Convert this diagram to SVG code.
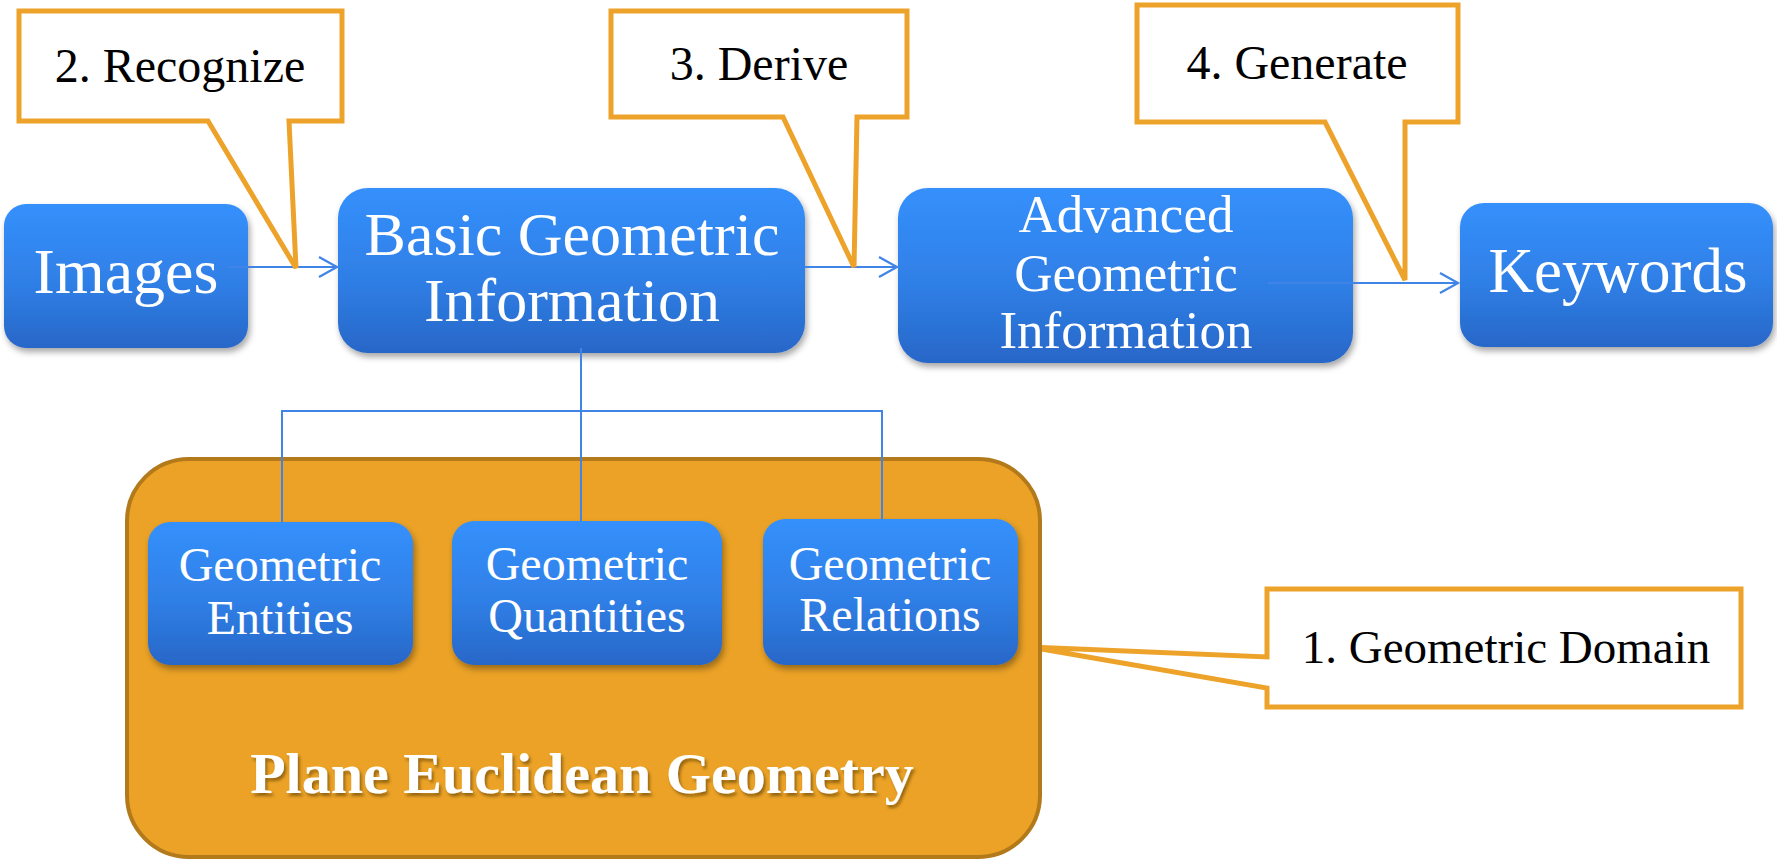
<svg xmlns="http://www.w3.org/2000/svg" width="1777" height="864" viewBox="0 0 1777 864">
<defs>
<linearGradient id="blueGrad" x1="0" y1="0" x2="0" y2="1">
<stop offset="0" stop-color="#3590FC"/>
<stop offset="0.55" stop-color="#2F7FE6"/>
<stop offset="1" stop-color="#2867C8"/>
</linearGradient>
<filter id="shadow" x="-10%" y="-10%" width="125%" height="130%">
<feDropShadow dx="2" dy="4" stdDeviation="3" flood-color="#000" flood-opacity="0.35"/>
</filter>
<filter id="textShadow" x="-5%" y="-20%" width="110%" height="150%">
<feDropShadow dx="2" dy="3" stdDeviation="1.5" flood-color="#5a3a00" flood-opacity="0.6"/>
</filter>
<marker id="arrow" markerUnits="userSpaceOnUse" markerWidth="22" markerHeight="24" refX="19" refY="11" orient="auto">
<path d="M1,1 L19,11 L1,21" fill="none" stroke="#3F84E6" stroke-width="2.2"/>
</marker>
</defs>
<style>
.node rect{fill:url(#blueGrad);filter:url(#shadow)}
.wt{fill:#fff;font-family:"Liberation Serif","Times New Roman",serif;text-anchor:middle}
.bt{fill:#000;font-family:"Liberation Serif","Times New Roman",serif;text-anchor:middle}
.callout{fill:#fff;stroke:#EDA22A;stroke-width:5;stroke-linejoin:miter}
.conn{fill:none;stroke:#3F84E6;stroke-width:2}
</style>
<rect width="1777" height="864" fill="#fff"/>

<g id="callout-domain">
<polygon class="callout" points="1267,589 1741,589 1741,707 1267,707 1267,688 1030,647 1267,657"/>
<text class="bt" x="1506" y="663" font-size="47">1. Geometric Domain</text>
</g>

<g id="plane-euclidean-geometry">
<rect x="127" y="459" width="913" height="398" rx="62" ry="62" fill="#EBA226" stroke="#B27A1B" stroke-width="4"/>
<text x="582" y="793" font-size="58" font-weight="bold" fill="#fff" font-family="'Liberation Serif','Times New Roman',serif" text-anchor="middle" filter="url(#textShadow)">Plane Euclidean Geometry</text>
</g>

<g id="images" class="node">
<rect x="4" y="204" width="244" height="144" rx="22"/>
<text class="wt" x="126" y="293" font-size="64">Images</text>
</g>
<g id="basic" class="node">
<rect x="338" y="188" width="467" height="165" rx="30"/>
<text class="wt" x="572" y="255" font-size="62">Basic Geometric</text>
<text class="wt" x="572" y="321" font-size="62">Information</text>
</g>
<g id="advanced" class="node">
<rect x="898" y="188" width="455" height="175" rx="30"/>
<text class="wt" x="1126" y="232" font-size="53">Advanced</text>
<text class="wt" x="1126" y="291" font-size="53">Geometric</text>
<text class="wt" x="1126" y="348" font-size="53">Information</text>
</g>
<g id="keywords" class="node">
<rect x="1460" y="203" width="313" height="144" rx="24"/>
<text class="wt" x="1618" y="292" font-size="63">Keywords</text>
</g>
<g id="entities" class="node">
<rect x="148" y="522" width="265" height="143" rx="22"/>
<text class="wt" x="280" y="581" font-size="48">Geometric</text>
<text class="wt" x="280" y="634" font-size="48">Entities</text>
</g>
<g id="quantities" class="node">
<rect x="452" y="521" width="270" height="144" rx="22"/>
<text class="wt" x="587" y="580" font-size="48">Geometric</text>
<text class="wt" x="587" y="632" font-size="48">Quantities</text>
</g>
<g id="relations" class="node">
<rect x="763" y="519" width="255" height="146" rx="22"/>
<text class="wt" x="890" y="580" font-size="48">Geometric</text>
<text class="wt" x="890" y="631" font-size="48">Relations</text>
</g>

<g id="connectors">
<line class="conn" x1="227" y1="267" x2="337" y2="267" marker-end="url(#arrow)"/>
<line class="conn" x1="805" y1="267" x2="897" y2="267" marker-end="url(#arrow)"/>
<line class="conn" x1="1268" y1="283" x2="1458" y2="283" marker-end="url(#arrow)"/>
<line class="conn" x1="581" y1="348" x2="581" y2="521"/>
<polyline class="conn" points="282,522 282,411 882,411 882,519"/>
</g>

<g id="callout-recognize">
<polygon class="callout" points="19,11 342,11 342,121 289,121 296,268 208,121 19,121"/>
<text class="bt" x="180" y="82" font-size="48">2. Recognize</text>
</g>
<g id="callout-derive">
<polygon class="callout" points="611,11 907,11 907,117 857,117 854,267 783,117 611,117"/>
<text class="bt" x="759" y="80" font-size="48">3. Derive</text>
</g>
<g id="callout-generate">
<polygon class="callout" points="1137,5 1458,5 1458,122 1405,122 1405,280 1325,122 1137,122"/>
<text class="bt" x="1297" y="79" font-size="48">4. Generate</text>
</g>
</svg>
